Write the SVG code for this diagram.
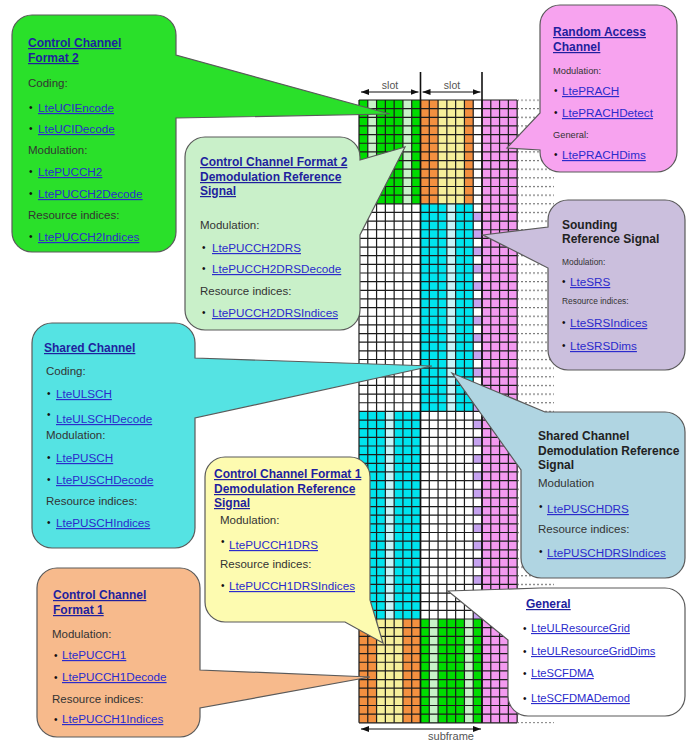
<svg xmlns="http://www.w3.org/2000/svg" width="686" height="740" viewBox="0 0 686 740">
<defs>
<style>
text{font-family:'Liberation Sans',Arial,sans-serif}
.co{stroke:#5a5a5a;stroke-width:1.2}
.ttl{font-size:12px;font-weight:bold;fill:#1f1f9e;text-decoration:underline}
.hdr{font-size:12px;font-weight:bold;fill:#222}
.lnk{font-size:11.7px;fill:#2b2bcc;text-decoration:underline}
.lnk2{font-size:11.2px;fill:#2b2bcc;text-decoration:underline}
.lbl{font-size:11.5px;fill:#333}
.lbs{font-size:9.3px;fill:#333}
.lbx{font-size:8.4px;fill:#333}
.bul{font-size:10px;fill:#111}
.dim{font-size:10.5px;fill:#555;text-anchor:middle}
.g{fill:#00dc00}.lg{fill:#c8f2c8}.or{fill:#f39040}.ye{fill:#f6ef9a}.cy{fill:#00e4ee}.lc{fill:#c6f4f8}.pk{fill:#f39af0}
</style>
<pattern id="dots" x="517" y="99.4" width="4" height="8.65" patternUnits="userSpaceOnUse"><rect x="0" y="0" width="2" height="1.2" fill="#777"/></pattern>
<marker id="ah" viewBox="0 0 8 6" refX="8" refY="3" markerWidth="8" markerHeight="6" markerUnits="userSpaceOnUse" orient="auto-start-reverse"><path d="M0,0L8,3L0,6z" fill="#111"/></marker>
</defs>
<rect width="686" height="740" fill="#fff"/>
<g id="resource-grid">
<rect class="g" x="359" y="100" width="61.5" height="103.8"/>
<rect class="lg" x="367.786" y="100" width="8.786" height="103.8"/>
<rect class="lg" x="402.929" y="100" width="8.786" height="103.8"/>
<rect class="or" x="420.5" y="100" width="52.714" height="103.8"/>
<rect class="ye" x="438.071" y="100" width="26.357" height="103.8"/>
<rect class="cy" x="420.5" y="203.8" width="52.714" height="207.6"/>
<rect class="lc" x="446.857" y="203.8" width="8.786" height="207.6"/>
<rect class="cy" x="359" y="411.4" width="61.5" height="207.6"/>
<rect class="lc" x="385.357" y="411.4" width="8.786" height="207.6"/>
<rect class="or" x="359" y="619" width="61.5" height="103.8"/>
<rect class="ye" x="376.571" y="619" width="26.357" height="103.8"/>
<rect class="g" x="420.5" y="619" width="61.5" height="103.8"/>
<rect class="lg" x="429.286" y="619" width="8.786" height="103.8"/>
<rect class="lg" x="464.429" y="619" width="8.786" height="103.8"/>
<rect class="pk" x="482" y="100" width="35.143" height="622.8"/>
<line x1="477.607" y1="212.45" x2="477.607" y2="619" stroke="#c6a3f0" stroke-width="8.786" stroke-dasharray="8.65 8.65"/>
<line x1="438.071" y1="99.4" x2="438.071" y2="723.4" stroke="#1c1c1c" stroke-width="158.143" stroke-dasharray="1.2 7.45"/>
<line x1="358.4" y1="411.4" x2="518.3" y2="411.4" stroke="#1c1c1c" stroke-width="622.8" stroke-dasharray="1.2 7.586"/>
<rect x="518" y="99.4" width="36" height="624" fill="url(#dots)"/>
<line x1="420.5" y1="72" x2="420.5" y2="722.8" stroke="#111" stroke-width="1.6"/>
<line x1="482" y1="72" x2="482" y2="722.8" stroke="#111" stroke-width="1.6"/>
</g>
<g id="dimension-arrows" stroke="#111" stroke-width="1">
<line x1="361" y1="92" x2="418.5" y2="92" marker-start="url(#ah)" marker-end="url(#ah)"/>
<line x1="422.5" y1="92" x2="480.5" y2="92" marker-start="url(#ah)" marker-end="url(#ah)"/>
<line x1="361" y1="729" x2="481" y2="729" marker-start="url(#ah)" marker-end="url(#ah)"/>
</g>
<g id="dimension-labels">
<text class="dim" x="390" y="89">slot</text>
<text class="dim" x="452" y="89">slot</text>
<text class="dim" x="451" y="739.5" style="font-size:11px">subframe</text>
</g>
<g id="connectors"/>
<g id="control-channel-format-2">
<path class="co" fill="#2ae02a" d="M32,15H156A20,20 0 0 1 176,35V55L390,114L176,118V232A20,20 0 0 1 156,252H32A20,20 0 0 1 12,232V35A20,20 0 0 1 32,15Z"/>
<text class="ttl" x="28" y="47">Control Channel</text>
<text class="ttl" x="28" y="62">Format 2</text>
<text class="lbl" x="28" y="87">Coding:</text>
<text class="bul" x="29" y="111">•</text><text class="lnk" x="38" y="112">LteUCIEncode</text>
<text class="bul" x="29" y="132">•</text><text class="lnk" x="38" y="133">LteUCIDecode</text>
<text class="lbl" x="28" y="154">Modulation:</text>
<text class="bul" x="29" y="175">•</text><text class="lnk" x="38" y="176">LtePUCCH2</text>
<text class="bul" x="29" y="197">•</text><text class="lnk" x="38" y="198">LtePUCCH2Decode</text>
<text class="lbl" x="28" y="219">Resource indices:</text>
<text class="bul" x="29" y="240">•</text><text class="lnk" x="38" y="241">LtePUCCH2Indices</text>
</g>
<g id="random-access-channel">
<path class="co" fill="#f7a3ef" d="M560,5H657A20,20 0 0 1 677,25V152A20,20 0 0 1 657,172H560A20,20 0 0 1 540,152V150L507,148L540,113V25A20,20 0 0 1 560,5Z"/>
<text class="ttl" x="553" y="36">Random Access</text>
<text class="ttl" x="553" y="51">Channel</text>
<text class="lbs" x="553" y="74">Modulation:</text>
<text class="bul" x="554" y="94">•</text><text class="lnk" x="562" y="95">LtePRACH</text>
<text class="bul" x="554" y="116">•</text><text class="lnk" x="562" y="117">LtePRACHDetect</text>
<text class="lbs" x="553" y="138">General:</text>
<text class="bul" x="554" y="158">•</text><text class="lnk" x="562" y="159">LtePRACHDims</text>
</g>
<g id="control-channel-format-2-drs">
<path class="co" fill="#c9f0c9" d="M205,137H340A20,20 0 0 1 360,157V160L405,147L360,235V310A20,20 0 0 1 340,330H205A20,20 0 0 1 185,310V157A20,20 0 0 1 205,137Z"/>
<text class="ttl" x="200" y="166">Control Channel Format 2</text>
<text class="ttl" x="200" y="181">Demodulation Reference</text>
<text class="ttl" x="200" y="195">Signal</text>
<text class="lbl" x="200" y="229">Modulation:</text>
<text class="bul" x="202" y="251">•</text><text class="lnk" x="212" y="252">LtePUCCH2DRS</text>
<text class="bul" x="202" y="272">•</text><text class="lnk" x="212" y="273">LtePUCCH2DRSDecode</text>
<text class="lbl" x="200" y="295">Resource indices:</text>
<text class="bul" x="202" y="316">•</text><text class="lnk" x="212" y="317">LtePUCCH2DRSIndices</text>
</g>
<g id="sounding-reference-signal">
<path class="co" fill="#cbbfdd" d="M568,200H665A20,20 0 0 1 685,220V350A20,20 0 0 1 665,370H568A20,20 0 0 1 548,350V268L483,235L548,227V220A20,20 0 0 1 568,200Z"/>
<text class="hdr" x="562" y="229">Sounding</text>
<text class="hdr" x="562" y="243">Reference Signal</text>
<text class="lbx" x="562" y="265">Modulation:</text>
<text class="bul" x="562" y="285">•</text><text class="lnk" x="570" y="286">LteSRS</text>
<text class="lbx" x="562" y="304">Resource indices:</text>
<text class="bul" x="562" y="326">•</text><text class="lnk" x="570" y="327">LteSRSIndices</text>
<text class="bul" x="562" y="349">•</text><text class="lnk" x="570" y="350">LteSRSDims</text>
</g>
<g id="shared-channel">
<path class="co" fill="#55e3e3" d="M52,323H175A20,20 0 0 1 195,343V358L432,366L195,418V528A20,20 0 0 1 175,548H52A20,20 0 0 1 32,528V343A20,20 0 0 1 52,323Z"/>
<text class="ttl" x="44" y="352">Shared Channel</text>
<text class="lbl" x="46" y="375">Coding:</text>
<text class="bul" x="47" y="397">•</text><text class="lnk" x="56" y="398">LteULSCH</text>
<text class="bul" x="47" y="418">•</text><text class="lnk" x="56" y="423">LteULSCHDecode</text>
<text class="lbl" x="46" y="439">Modulation:</text>
<text class="bul" x="47" y="461">•</text><text class="lnk" x="56" y="462">LtePUSCH</text>
<text class="bul" x="47" y="483">•</text><text class="lnk" x="56" y="484">LtePUSCHDecode</text>
<text class="lbl" x="46" y="505">Resource indices:</text>
<text class="bul" x="47" y="526">•</text><text class="lnk" x="56" y="527">LtePUSCHIndices</text>
</g>
<g id="control-channel-format-1-drs">
<path class="co" fill="#fdfbb0" d="M225,457H350A20,20 0 0 1 370,477V600L383,643L345,622H225A20,20 0 0 1 205,602V477A20,20 0 0 1 225,457Z"/>
<text class="ttl" x="214" y="478">Control Channel Format 1</text>
<text class="ttl" x="214" y="493">Demodulation Reference</text>
<text class="ttl" x="214" y="507">Signal</text>
<text class="lbl" x="220" y="524">Modulation:</text>
<text class="bul" x="221" y="545">•</text><text class="lnk" x="229" y="549">LtePUCCH1DRS</text>
<text class="lbl" x="220" y="568">Resource indices:</text>
<text class="bul" x="221" y="589">•</text><text class="lnk" x="229" y="590">LtePUCCH1DRSIndices</text>
</g>
<g id="control-channel-format-1">
<path class="co" fill="#f7ba8c" d="M57,568H180A20,20 0 0 1 200,588V670L370,677L200,708V717A20,20 0 0 1 180,737H57A20,20 0 0 1 37,717V588A20,20 0 0 1 57,568Z"/>
<text class="ttl" x="53" y="599">Control Channel</text>
<text class="ttl" x="53" y="614">Format 1</text>
<text class="lbl" x="52" y="638">Modulation:</text>
<text class="bul" x="54" y="659">•</text><text class="lnk" x="62" y="659">LtePUCCH1</text>
<text class="bul" x="54" y="681">•</text><text class="lnk" x="62" y="681">LtePUCCH1Decode</text>
<text class="lbl" x="52" y="703">Resource indices:</text>
<text class="bul" x="54" y="723">•</text><text class="lnk" x="62" y="723">LtePUCCH1Indices</text>
</g>
<g id="shared-channel-drs">
<path class="co" fill="#b0d5e2" d="M545,412H665A20,20 0 0 1 685,432V558A20,20 0 0 1 665,578H541A20,20 0 0 1 521,558V470L452,373Z"/>
<text class="hdr" x="538" y="440">Shared Channel</text>
<text class="hdr" x="538" y="455">Demodulation Reference</text>
<text class="hdr" x="538" y="469">Signal</text>
<text class="lbl" x="538" y="487">Modulation</text>
<text class="bul" x="539" y="510">•</text><text class="lnk" x="547" y="513">LtePUSCHDRS</text>
<text class="lbl" x="538" y="533">Resource indices:</text>
<text class="bul" x="539" y="555">•</text><text class="lnk" x="547" y="557">LtePUSCHDRSIndices</text>
</g>
<g id="general">
<path class="co" fill="#ffffff" d="M540,588H665A20,20 0 0 1 685,608V696A20,20 0 0 1 665,716H528A20,20 0 0 1 508,696V640L448,591Z"/>
<text class="ttl" x="526" y="608">General</text>
<text class="bul" x="523" y="632">•</text><text class="lnk2" x="531" y="632">LteULResourceGrid</text>
<text class="bul" x="523" y="655">•</text><text class="lnk2" x="531" y="655">LteULResourceGridDims</text>
<text class="bul" x="523" y="677">•</text><text class="lnk2" x="531" y="677">LteSCFDMA</text>
<text class="bul" x="523" y="702">•</text><text class="lnk2" x="531" y="702">LteSCFDMADemod</text>
</g>
</svg>
